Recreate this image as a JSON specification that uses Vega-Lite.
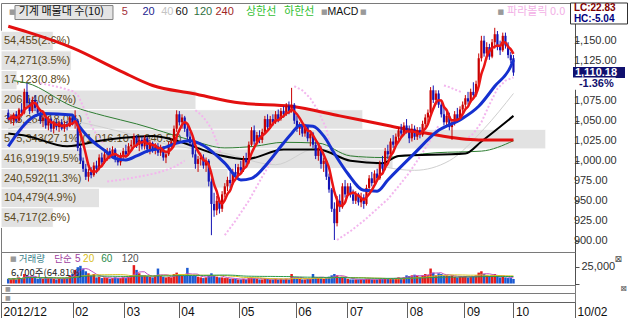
{
  "$schema": "https://vega.github.io/schema/vega-lite/v6.json",
  "padding": 0,
  "spacing": 0,
  "bounds": "flush",
  "background": "#ffffff",
  "config": {"view": {"stroke": "#7a7a7a", "strokeWidth": 1}, "axis": {"labelOverlap": false, "labelBound": false, "labelFlush": false}},
  "resolve": {"scale": {"x": "independent", "y": "independent"}},
  "datasets": {
    "ohlc": [
      {"i":0,"o":1060,"h":1064,"l":1050,"c":1052,"v":7000},{"i":1,"o":1052,"h":1058,"l":1046,"c":1055,"v":6000},{"i":2,"o":1050,"h":1060,"l":1044,"c":1058,"v":8000},{"i":3,"o":1058,"h":1062,"l":1047,"c":1050,"v":6000},{"i":4,"o":1050,"h":1066,"l":1048,"c":1064,"v":9000},
      {"i":5,"o":1064,"h":1072,"l":1056,"c":1060,"v":8000},{"i":6,"o":1060,"h":1090,"l":1058,"c":1086,"v":14000},{"i":7,"o":1086,"h":1097,"l":1068,"c":1072,"v":12000},{"i":8,"o":1072,"h":1078,"l":1058,"c":1062,"v":9000},{"i":9,"o":1062,"h":1080,"l":1060,"c":1076,"v":10000},
      {"i":10,"o":1076,"h":1082,"l":1062,"c":1066,"v":8000},{"i":11,"o":1066,"h":1074,"l":1056,"c":1060,"v":7000},{"i":12,"o":1060,"h":1064,"l":1046,"c":1050,"v":8000},{"i":13,"o":1050,"h":1058,"l":1042,"c":1054,"v":7000},{"i":14,"o":1054,"h":1058,"l":1040,"c":1044,"v":8000},
      {"i":15,"o":1044,"h":1056,"l":1038,"c":1052,"v":9000},{"i":16,"o":1052,"h":1054,"l":1036,"c":1040,"v":8000},{"i":17,"o":1040,"h":1050,"l":1034,"c":1046,"v":7000},{"i":18,"o":1046,"h":1052,"l":1038,"c":1042,"v":6000},{"i":19,"o":1042,"h":1050,"l":1036,"c":1048,"v":7000},
      {"i":20,"o":1048,"h":1052,"l":1038,"c":1040,"v":7000},{"i":21,"o":1040,"h":1050,"l":1036,"c":1046,"v":8000},{"i":22,"o":1046,"h":1050,"l":1038,"c":1043,"v":9000},{"i":23,"o":1043,"h":1056,"l":1042,"c":1054,"v":12000},{"i":24,"o":1054,"h":1058,"l":1044,"c":1048,"v":14000},
      {"i":25,"o":1048,"h":1063,"l":1040,"c":1056,"v":20000},{"i":26,"o":1050,"h":1052,"l":1012,"c":1016,"v":24000},{"i":27,"o":1016,"h":1020,"l":996,"c":1000,"v":26000},{"i":28,"o":1000,"h":1004,"l":986,"c":990,"v":22000},{"i":29,"o":990,"h":996,"l":976,"c":980,"v":18000},
      {"i":30,"o":980,"h":990,"l":974,"c":986,"v":15000},{"i":31,"o":986,"h":992,"l":978,"c":982,"v":12000},{"i":32,"o":982,"h":998,"l":980,"c":994,"v":14000},{"i":33,"o":994,"h":1000,"l":984,"c":990,"v":9000},{"i":34,"o":990,"h":1008,"l":988,"c":1004,"v":10000},
      {"i":35,"o":1004,"h":1010,"l":994,"c":998,"v":8000},{"i":36,"o":998,"h":1012,"l":996,"c":1008,"v":9000},{"i":37,"o":1008,"h":1016,"l":1000,"c":1012,"v":8000},{"i":38,"o":1012,"h":1016,"l":1002,"c":1006,"v":7000},{"i":39,"o":1006,"h":1018,"l":1004,"c":1014,"v":8000},
      {"i":40,"o":1014,"h":1016,"l":998,"c":1002,"v":9000},{"i":41,"o":1002,"h":1008,"l":994,"c":998,"v":8000},{"i":42,"o":998,"h":1010,"l":994,"c":1006,"v":8000},{"i":43,"o":1006,"h":1016,"l":1002,"c":1012,"v":9000},{"i":44,"o":1012,"h":1020,"l":1004,"c":1008,"v":8000},
      {"i":45,"o":1008,"h":1022,"l":1006,"c":1018,"v":10000},{"i":46,"o":1018,"h":1026,"l":1012,"c":1020,"v":12000},{"i":47,"o":1020,"h":1034,"l":1016,"c":1030,"v":27000},{"i":48,"o":1030,"h":1032,"l":1016,"c":1020,"v":20000},{"i":49,"o":1020,"h":1030,"l":1012,"c":1026,"v":15000},
      {"i":50,"o":1026,"h":1030,"l":1014,"c":1018,"v":12000},{"i":51,"o":1018,"h":1032,"l":1014,"c":1028,"v":12000},{"i":52,"o":1028,"h":1030,"l":1010,"c":1014,"v":11000},{"i":53,"o":1014,"h":1026,"l":1008,"c":1022,"v":10000},{"i":54,"o":1022,"h":1024,"l":1010,"c":1014,"v":9000},
      {"i":55,"o":1014,"h":1022,"l":1008,"c":1018,"v":12000},{"i":56,"o":1018,"h":1022,"l":1006,"c":1010,"v":22000},{"i":57,"o":1010,"h":1020,"l":1006,"c":1016,"v":11000},{"i":58,"o":1016,"h":1018,"l":1000,"c":1004,"v":10000},{"i":59,"o":1004,"h":1010,"l":997,"c":1008,"v":9000},
      {"i":60,"o":1008,"h":1024,"l":1006,"c":1020,"v":10000},{"i":61,"o":1020,"h":1028,"l":1014,"c":1024,"v":9000},{"i":62,"o":1024,"h":1044,"l":1020,"c":1040,"v":14000},{"i":63,"o":1040,"h":1063,"l":1036,"c":1058,"v":16000},{"i":64,"o":1058,"h":1062,"l":1044,"c":1048,"v":13000},
      {"i":65,"o":1048,"h":1058,"l":1040,"c":1054,"v":11000},{"i":66,"o":1054,"h":1056,"l":1036,"c":1040,"v":12000},{"i":67,"o":1040,"h":1044,"l":1026,"c":1030,"v":23000},{"i":68,"o":1030,"h":1036,"l":1018,"c":1022,"v":12000},{"i":69,"o":1022,"h":1028,"l":1004,"c":1008,"v":11000},
      {"i":70,"o":1008,"h":1014,"l":990,"c":996,"v":12000},{"i":71,"o":996,"h":1006,"l":986,"c":1002,"v":10000},{"i":72,"o":1002,"h":1010,"l":994,"c":1004,"v":9000},{"i":73,"o":1004,"h":1008,"l":990,"c":994,"v":8000},{"i":74,"o":994,"h":1004,"l":986,"c":1000,"v":9000},
      {"i":75,"o":1000,"h":1002,"l":968,"c":974,"v":12000},{"i":76,"o":974,"h":978,"l":907,"c":946,"v":15000},{"i":77,"o":946,"h":960,"l":930,"c":938,"v":12000},{"i":78,"o":938,"h":956,"l":932,"c":950,"v":10000},{"i":79,"o":950,"h":954,"l":934,"c":940,"v":9000},
      {"i":80,"o":940,"h":962,"l":936,"c":958,"v":9000},{"i":81,"o":958,"h":972,"l":954,"c":968,"v":8000},{"i":82,"o":968,"h":980,"l":962,"c":976,"v":8000},{"i":83,"o":976,"h":986,"l":966,"c":972,"v":7000},{"i":84,"o":972,"h":990,"l":970,"c":986,"v":7000},
      {"i":85,"o":986,"h":996,"l":978,"c":982,"v":7000},{"i":86,"o":982,"h":996,"l":980,"c":992,"v":6000},{"i":87,"o":992,"h":1000,"l":984,"c":988,"v":6000},{"i":88,"o":988,"h":1006,"l":986,"c":1002,"v":7000},{"i":89,"o":1002,"h":1010,"l":994,"c":998,"v":6000},
      {"i":90,"o":998,"h":1024,"l":996,"c":1020,"v":8000},{"i":91,"o":1020,"h":1042,"l":1018,"c":1038,"v":9000},{"i":92,"o":1038,"h":1044,"l":1020,"c":1024,"v":8000},{"i":93,"o":1024,"h":1036,"l":1020,"c":1032,"v":7000},{"i":94,"o":1032,"h":1038,"l":1022,"c":1026,"v":6000},
      {"i":95,"o":1026,"h":1040,"l":1022,"c":1036,"v":6000},{"i":96,"o":1036,"h":1056,"l":1034,"c":1052,"v":8000},{"i":97,"o":1052,"h":1058,"l":1038,"c":1042,"v":7000},{"i":98,"o":1042,"h":1056,"l":1040,"c":1052,"v":6000},{"i":99,"o":1052,"h":1058,"l":1044,"c":1048,"v":6000},
      {"i":100,"o":1048,"h":1062,"l":1046,"c":1058,"v":7000},{"i":101,"o":1058,"h":1064,"l":1048,"c":1052,"v":6000},{"i":102,"o":1052,"h":1066,"l":1050,"c":1062,"v":7000},{"i":103,"o":1062,"h":1068,"l":1054,"c":1058,"v":6000},{"i":104,"o":1058,"h":1072,"l":1056,"c":1068,"v":7000},
      {"i":105,"o":1068,"h":1074,"l":1058,"c":1062,"v":6000},{"i":106,"o":1062,"h":1091,"l":1060,"c":1070,"v":14000},{"i":107,"o":1070,"h":1072,"l":1046,"c":1050,"v":9000},{"i":108,"o":1050,"h":1056,"l":1036,"c":1040,"v":8000},{"i":109,"o":1040,"h":1048,"l":1032,"c":1044,"v":7000},
      {"i":110,"o":1044,"h":1048,"l":1030,"c":1034,"v":6000},{"i":111,"o":1034,"h":1046,"l":1030,"c":1042,"v":6000},{"i":112,"o":1042,"h":1044,"l":1024,"c":1028,"v":7000},{"i":113,"o":1028,"h":1038,"l":1018,"c":1034,"v":7000},{"i":114,"o":1034,"h":1036,"l":1016,"c":1020,"v":14000},
      {"i":115,"o":1020,"h":1024,"l":1002,"c":1006,"v":9000},{"i":116,"o":1006,"h":1020,"l":1000,"c":1016,"v":8000},{"i":117,"o":1016,"h":1018,"l":990,"c":996,"v":8000},{"i":118,"o":996,"h":1004,"l":986,"c":1000,"v":7000},{"i":119,"o":1000,"h":1002,"l":976,"c":980,"v":9000},
      {"i":120,"o":980,"h":984,"l":960,"c":964,"v":10000},{"i":121,"o":964,"h":966,"l":936,"c":940,"v":12000},{"i":122,"o":940,"h":948,"l":901,"c":922,"v":14000},{"i":123,"o":922,"h":956,"l":918,"c":950,"v":12000},{"i":124,"o":950,"h":958,"l":936,"c":942,"v":9000},
      {"i":125,"o":942,"h":972,"l":940,"c":968,"v":10000},{"i":126,"o":968,"h":976,"l":954,"c":958,"v":8000},{"i":127,"o":958,"h":972,"l":956,"c":968,"v":7000},{"i":128,"o":968,"h":972,"l":954,"c":958,"v":6000},{"i":129,"o":958,"h":964,"l":946,"c":950,"v":6000},
      {"i":130,"o":950,"h":962,"l":946,"c":958,"v":6000},{"i":131,"o":958,"h":960,"l":944,"c":948,"v":6000},{"i":132,"o":948,"h":960,"l":942,"c":954,"v":6000},{"i":133,"o":954,"h":958,"l":940,"c":946,"v":6000},{"i":134,"o":946,"h":970,"l":944,"c":966,"v":7000},
      {"i":135,"o":966,"h":982,"l":962,"c":978,"v":7000},{"i":136,"o":978,"h":986,"l":968,"c":972,"v":6000},{"i":137,"o":972,"h":988,"l":970,"c":984,"v":6000},{"i":138,"o":984,"h":990,"l":974,"c":978,"v":6000},{"i":139,"o":978,"h":1000,"l":976,"c":996,"v":7000},
      {"i":140,"o":996,"h":1006,"l":986,"c":990,"v":7000},{"i":141,"o":990,"h":1016,"l":988,"c":1012,"v":8000},{"i":142,"o":1012,"h":1020,"l":1002,"c":1008,"v":7000},{"i":143,"o":1008,"h":1028,"l":1006,"c":1024,"v":8000},{"i":144,"o":1024,"h":1032,"l":1016,"c":1020,"v":7000},
      {"i":145,"o":1020,"h":1034,"l":1018,"c":1030,"v":8000},{"i":146,"o":1030,"h":1042,"l":1026,"c":1038,"v":9000},{"i":147,"o":1038,"h":1046,"l":1030,"c":1034,"v":8000},{"i":148,"o":1034,"h":1048,"l":1032,"c":1044,"v":9000},{"i":149,"o":1044,"h":1052,"l":1034,"c":1038,"v":12000},
      {"i":150,"o":1038,"h":1044,"l":1022,"c":1028,"v":11000},{"i":151,"o":1028,"h":1046,"l":1024,"c":1040,"v":12000},{"i":152,"o":1040,"h":1044,"l":1026,"c":1030,"v":13000},{"i":153,"o":1030,"h":1042,"l":1026,"c":1038,"v":11000},{"i":154,"o":1038,"h":1042,"l":1028,"c":1032,"v":10000},
      {"i":155,"o":1032,"h":1050,"l":1030,"c":1046,"v":12000},{"i":156,"o":1046,"h":1058,"l":1040,"c":1054,"v":14000},{"i":157,"o":1054,"h":1064,"l":1048,"c":1060,"v":13000},{"i":158,"o":1060,"h":1092,"l":1058,"c":1088,"v":22000},{"i":159,"o":1088,"h":1094,"l":1072,"c":1076,"v":16000},
      {"i":160,"o":1076,"h":1088,"l":1070,"c":1084,"v":12000},{"i":161,"o":1084,"h":1088,"l":1066,"c":1070,"v":15000},{"i":162,"o":1070,"h":1076,"l":1054,"c":1058,"v":14000},{"i":163,"o":1058,"h":1066,"l":1044,"c":1048,"v":12000},{"i":164,"o":1048,"h":1062,"l":1042,"c":1056,"v":12000},
      {"i":165,"o":1056,"h":1060,"l":1038,"c":1042,"v":11000},{"i":166,"o":1042,"h":1052,"l":1026,"c":1048,"v":12000},{"i":167,"o":1048,"h":1062,"l":1044,"c":1058,"v":10000},{"i":168,"o":1058,"h":1066,"l":1048,"c":1052,"v":9000},{"i":169,"o":1052,"h":1068,"l":1050,"c":1064,"v":10000},
      {"i":170,"o":1064,"h":1074,"l":1056,"c":1070,"v":10000},{"i":171,"o":1070,"h":1082,"l":1066,"c":1078,"v":11000},{"i":172,"o":1078,"h":1086,"l":1070,"c":1074,"v":9000},{"i":173,"o":1074,"h":1090,"l":1072,"c":1086,"v":10000},{"i":174,"o":1086,"h":1098,"l":1078,"c":1082,"v":11000},
      {"i":175,"o":1082,"h":1100,"l":1080,"c":1096,"v":12000},{"i":176,"o":1096,"h":1134,"l":1094,"c":1128,"v":16000},{"i":177,"o":1128,"h":1156,"l":1124,"c":1150,"v":18000},{"i":178,"o":1150,"h":1156,"l":1130,"c":1134,"v":14000},{"i":179,"o":1134,"h":1148,"l":1126,"c":1142,"v":12000},
      {"i":180,"o":1142,"h":1146,"l":1126,"c":1130,"v":11000},{"i":181,"o":1130,"h":1152,"l":1128,"c":1148,"v":12000},{"i":182,"o":1148,"h":1166,"l":1140,"c":1158,"v":14000},{"i":183,"o":1158,"h":1162,"l":1138,"c":1142,"v":11000},{"i":184,"o":1142,"h":1150,"l":1132,"c":1138,"v":9000},
      {"i":185,"o":1138,"h":1160,"l":1136,"c":1156,"v":10000},{"i":186,"o":1156,"h":1160,"l":1140,"c":1144,"v":9000},{"i":187,"o":1144,"h":1148,"l":1128,"c":1132,"v":8000},{"i":188,"o":1132,"h":1136,"l":1122,"c":1125.5,"v":8000},{"i":189,"o":1128,"h":1132,"l":1106,"c":1110.18,"v":6700}
    ],
    "ma": [
      {"i":0,"ma":"240","p":1168},{"i":7,"ma":"240","p":1161},{"i":24,"ma":"240","p":1141},{"i":42,"ma":"240","p":1112},{"i":54,"ma":"240","p":1094},{"i":69,"ma":"240","p":1084},{"i":87,"ma":"240","p":1072},{"i":106,"ma":"240","p":1068},{"i":124,"ma":"240","p":1056},{"i":142,"ma":"240","p":1044},{"i":157,"ma":"240","p":1034},{"i":176,"ma":"240","p":1026},{"i":189,"ma":"240","p":1026},
      {"i":2,"ma":"120","p":1100},{"i":7,"ma":"120","p":1097},{"i":24,"ma":"120","p":1068},{"i":36,"ma":"120","p":1056},{"i":48,"ma":"120","p":1046},{"i":58,"ma":"120","p":1036},{"i":69,"ma":"120","p":1025},{"i":81,"ma":"120","p":1016},{"i":92,"ma":"120","p":1018},{"i":103,"ma":"120","p":1023},{"i":116,"ma":"120","p":1022},{"i":128,"ma":"120","p":1006},{"i":140,"ma":"120","p":1004},{"i":160,"ma":"120","p":1010},{"i":177,"ma":"120","p":1012},{"i":189,"ma":"120","p":1025},
      {"i":0,"ma":"60","p":1034},{"i":7,"ma":"60","p":1031},{"i":22,"ma":"60","p":1018},{"i":36,"ma":"60","p":1026},{"i":48,"ma":"60","p":1030},{"i":54,"ma":"60","p":1031},{"i":62,"ma":"60","p":1026},{"i":79,"ma":"60","p":1007},{"i":89,"ma":"60","p":1002},{"i":103,"ma":"60","p":1014},{"i":116,"ma":"60","p":1014},{"i":128,"ma":"60","p":1000},{"i":140,"ma":"60","p":997},{"i":146,"ma":"60","p":1006},{"i":171,"ma":"60","p":1009},{"i":177,"ma":"60","p":1024},{"i":189,"ma":"60","p":1056},
      {"i":0,"ma":"40","p":1040},{"i":20,"ma":"40","p":1050},{"i":40,"ma":"40","p":1038},{"i":60,"ma":"40","p":1020},{"i":80,"ma":"40","p":1010},{"i":100,"ma":"40","p":995},{"i":115,"ma":"40","p":1015},{"i":130,"ma":"40","p":1005},{"i":140,"ma":"40","p":993},{"i":152,"ma":"40","p":988},{"i":165,"ma":"40","p":1000},{"i":178,"ma":"40","p":1040},{"i":189,"ma":"40","p":1084},
      {"i":0,"ma":"20","p":1018},{"i":10,"ma":"20","p":1056},{"i":13,"ma":"20","p":1059},{"i":24,"ma":"20","p":1057},{"i":25,"ma":"20","p":1051},{"i":31,"ma":"20","p":1026},{"i":36,"ma":"20","p":1013},{"i":40,"ma":"20","p":1003},{"i":44,"ma":"20","p":1001},{"i":48,"ma":"20","p":1006},{"i":52,"ma":"20","p":1012},{"i":58,"ma":"20","p":1016},{"i":63,"ma":"20","p":1022},{"i":68,"ma":"20","p":1025},{"i":73,"ma":"20","p":1019},{"i":81,"ma":"20","p":997},{"i":87,"ma":"20","p":976},{"i":91,"ma":"20","p":978},{"i":97,"ma":"20","p":997},{"i":102,"ma":"20","p":1018},{"i":106,"ma":"20","p":1034},{"i":109,"ma":"20","p":1044},{"i":114,"ma":"20","p":1043},{"i":118,"ma":"20","p":1031},{"i":122,"ma":"20","p":1009},{"i":127,"ma":"20","p":984},{"i":133,"ma":"20","p":963},{"i":138,"ma":"20","p":962},{"i":142,"ma":"20","p":976},{"i":151,"ma":"20","p":1006},{"i":161,"ma":"20","p":1038},{"i":169,"ma":"20","p":1051},{"i":176,"ma":"20","p":1068},{"i":182,"ma":"20","p":1093},{"i":188,"ma":"20","p":1118},{"i":189,"ma":"20","p":1126}
    ],
    "sar": [
      {"i":0,"seg":"A","s":1018},{"i":2,"seg":"A","s":1026},{"i":4,"seg":"A","s":1034},{"i":6,"seg":"A","s":1042},{"i":8,"seg":"A","s":1050},{"i":10,"seg":"A","s":1056},
      {"i":12,"seg":"B","s":1097},{"i":16,"seg":"B","s":1094},{"i":20,"seg":"B","s":1091},{"i":24,"seg":"B","s":1087},{"i":26,"seg":"B","s":1082},{"i":28,"seg":"B","s":1068},{"i":30,"seg":"B","s":1052},{"i":32,"seg":"B","s":1038},{"i":34,"seg":"B","s":1028},{"i":36,"seg":"B","s":1020},
      {"i":37,"seg":"C","s":974},{"i":42,"seg":"C","s":976},{"i":47,"seg":"C","s":979},{"i":52,"seg":"C","s":982},{"i":57,"seg":"C","s":986},{"i":62,"seg":"C","s":992},{"i":66,"seg":"C","s":1000},
      {"i":70,"seg":"D","s":1063},{"i":72,"seg":"D","s":1058},{"i":74,"seg":"D","s":1050},{"i":76,"seg":"D","s":1040},{"i":78,"seg":"D","s":1024},{"i":80,"seg":"D","s":1004},
      {"i":81,"seg":"E","s":907},{"i":85,"seg":"E","s":925},{"i":90,"seg":"E","s":950},{"i":95,"seg":"E","s":980},{"i":100,"seg":"E","s":1008},{"i":105,"seg":"E","s":1030},
      {"i":107,"seg":"F","s":1093},{"i":110,"seg":"F","s":1088},{"i":113,"seg":"F","s":1078},{"i":116,"seg":"F","s":1062},{"i":119,"seg":"F","s":1040},{"i":121,"seg":"F","s":1010},
      {"i":123,"seg":"G","s":901},{"i":128,"seg":"G","s":912},{"i":133,"seg":"G","s":925},{"i":138,"seg":"G","s":940},{"i":142,"seg":"G","s":952},{"i":146,"seg":"G","s":968},{"i":150,"seg":"G","s":985},{"i":154,"seg":"G","s":1005},{"i":158,"seg":"G","s":1026},{"i":161,"seg":"G","s":1044},
      {"i":163,"seg":"H","s":1094},{"i":165,"seg":"H","s":1092},{"i":167,"seg":"H","s":1089},{"i":170,"seg":"H","s":1085},
      {"i":171,"seg":"I","s":1026},{"i":174,"seg":"I","s":1034},{"i":177,"seg":"I","s":1048},{"i":180,"seg":"I","s":1070},{"i":183,"seg":"I","s":1090},{"i":186,"seg":"I","s":1100},{"i":189,"seg":"I","s":1104}
    ],
    "profile": [
      {"hi":1161.75,"lo":1137.25,"pct":2.6,"label":"54,455(2.6%)"},
      {"hi":1137.25,"lo":1112.75,"pct":3.5,"label":"74,271(3.5%)"},
      {"hi":1112.75,"lo":1088.25,"pct":0.8,"label":"17,123(0.8%)"},
      {"hi":1088.25,"lo":1063.75,"pct":9.7,"label":"206,140(9.7%)"},
      {"hi":1063.75,"lo":1039.25,"pct":18.0,"label":"383,264(18.0%)"},
      {"hi":1039.25,"lo":1014.75,"pct":27.1,"label":"575,343(27.1%)(1,016.10~1,040.58)"},
      {"hi":1014.75,"lo":990.25,"pct":19.5,"label":"416,919(19.5%)"},
      {"hi":990.25,"lo":965.75,"pct":11.3,"label":"240,592(11.3%)"},
      {"hi":965.75,"lo":941.25,"pct":4.9,"label":"104,479(4.9%)"},
      {"hi":941.25,"lo":916.75,"pct":2.6,"label":"54,717(2.6%)"}
    ],
    "yticks": [{"v":900},{"v":925},{"v":950},{"v":975},{"v":1000},{"v":1025},{"v":1050},{"v":1075},{"v":1125},{"v":1150}]
  },
  "vconcat": [
    {
      "width": 574,
      "height": 249,
      "resolve": {"scale": {"x": "independent"}},
      "layer": [
        {
          "data": {"name": "profile"},
          "layer": [
            {
              "mark": {"type": "rect", "fill": "#e2e2e2", "stroke": "#ffffff", "strokeWidth": 1},
              "encoding": {
                "x": {"field": "pct", "type": "quantitative", "scale": {"domain": [0, 28.55], "nice": false, "zero": false}, "axis": null},
                "x2": {"datum": 0},
                "y": {"field": "hi", "type": "quantitative", "scale": {"domain": [886, 1197], "nice": false, "zero": false},
                  "axis": {"orient": "right", "title": null, "grid": false, "values": [900, 925, 950, 975, 1000, 1025, 1050, 1075, 1100, 1125, 1150], "labels": false, "tickSize": 4, "domainColor": "#505050", "tickColor": "#505050"}},
                "y2": {"field": "lo"}
              }
            },
            {
              "mark": {"type": "text", "align": "left", "baseline": "top", "dx": 3, "dy": 4, "font": "Liberation Sans", "fontSize": 11, "color": "#5a4820"},
              "encoding": {
                "x": {"datum": 0, "type": "quantitative", "scale": {"domain": [0, 28.55], "nice": false, "zero": false}, "axis": null},
                "y": {"field": "hi", "type": "quantitative", "scale": {"domain": [886, 1197], "nice": false, "zero": false}},
                "text": {"field": "label", "type": "nominal"}
              }
            }
          ]
        },
        {
          "layer": [
            {
              "data": {"name": "sar"},
              "mark": {"type": "line", "color": "#f3b6ee", "strokeWidth": 2, "strokeDash": [2, 2]},
              "encoding": {
                "x": {"field": "i", "type": "quantitative", "scale": {"domain": [-0.85, 210.15], "nice": false, "zero": false}, "axis": null},
                "y": {"field": "s", "type": "quantitative", "scale": {"domain": [886, 1197], "nice": false, "zero": false}},
                "detail": {"field": "seg", "type": "nominal"}
              }
            },
            {
              "data": {"name": "ma"},
              "transform": [{"filter": "datum.ma == '40'"}],
              "mark": {"type": "line", "interpolate": "monotone", "color": "#cfcfcf", "strokeWidth": 1},
              "encoding": {
                "x": {"field": "i", "type": "quantitative", "scale": {"domain": [-0.85, 210.15], "nice": false, "zero": false}, "axis": null},
                "y": {"field": "p", "type": "quantitative", "scale": {"domain": [886, 1197], "nice": false, "zero": false}}
              }
            },
            {
              "data": {"name": "ma"},
              "transform": [{"filter": "datum.ma == '120'"}],
              "mark": {"type": "line", "interpolate": "monotone", "color": "#2e7d32", "strokeWidth": 1},
              "encoding": {
                "x": {"field": "i", "type": "quantitative", "scale": {"domain": [-0.85, 210.15], "nice": false, "zero": false}, "axis": null},
                "y": {"field": "p", "type": "quantitative", "scale": {"domain": [886, 1197], "nice": false, "zero": false}}
              }
            },
            {
              "data": {"name": "ma"},
              "transform": [{"filter": "datum.ma == '60'"}],
              "mark": {"type": "line", "interpolate": "monotone", "color": "#000000", "strokeWidth": 2},
              "encoding": {
                "x": {"field": "i", "type": "quantitative", "scale": {"domain": [-0.85, 210.15], "nice": false, "zero": false}, "axis": null},
                "y": {"field": "p", "type": "quantitative", "scale": {"domain": [886, 1197], "nice": false, "zero": false}}
              }
            },
            {
              "data": {"name": "ma"},
              "transform": [{"filter": "datum.ma == '240'"}],
              "mark": {"type": "line", "interpolate": "monotone", "color": "#e31010", "strokeWidth": 3},
              "encoding": {
                "x": {"field": "i", "type": "quantitative", "scale": {"domain": [-0.85, 210.15], "nice": false, "zero": false}, "axis": null},
                "y": {"field": "p", "type": "quantitative", "scale": {"domain": [886, 1197], "nice": false, "zero": false}}
              }
            },
            {
              "data": {"name": "ohlc"},
              "mark": {"type": "rule", "strokeWidth": 1},
              "encoding": {
                "x": {"field": "i", "type": "quantitative", "scale": {"domain": [-0.85, 210.15], "nice": false, "zero": false}, "axis": null},
                "y": {"field": "l", "type": "quantitative", "scale": {"domain": [886, 1197], "nice": false, "zero": false}},
                "y2": {"field": "h"},
                "color": {"condition": {"test": "datum.c >= datum.o", "value": "#c80000"}, "value": "#1414b4"}
              }
            },
            {
              "data": {"name": "ohlc"},
              "mark": {"type": "bar", "size": 2.2},
              "encoding": {
                "x": {"field": "i", "type": "quantitative", "scale": {"domain": [-0.85, 210.15], "nice": false, "zero": false}, "axis": null},
                "y": {"field": "o", "type": "quantitative", "scale": {"domain": [886, 1197], "nice": false, "zero": false}},
                "y2": {"field": "c"},
                "color": {"condition": {"test": "datum.c >= datum.o", "value": "#c80000"}, "value": "#1414b4"}
              }
            },
            {
              "data": {"name": "ma"},
              "transform": [{"filter": "datum.ma == '20'"}],
              "mark": {"type": "line", "interpolate": "monotone", "color": "#1530d0", "strokeWidth": 3},
              "encoding": {
                "x": {"field": "i", "type": "quantitative", "scale": {"domain": [-0.85, 210.15], "nice": false, "zero": false}, "axis": null},
                "y": {"field": "p", "type": "quantitative", "scale": {"domain": [886, 1197], "nice": false, "zero": false}}
              }
            },
            {
              "data": {"name": "ohlc"},
              "transform": [{"window": [{"op": "mean", "field": "c", "as": "ma5"}], "frame": [-4, 0], "sort": [{"field": "i", "order": "ascending"}]}],
              "mark": {"type": "line", "interpolate": "monotone", "color": "#ea1515", "strokeWidth": 2.5},
              "encoding": {
                "x": {"field": "i", "type": "quantitative", "scale": {"domain": [-0.85, 210.15], "nice": false, "zero": false}, "axis": null},
                "y": {"field": "ma5", "type": "quantitative", "scale": {"domain": [886, 1197], "nice": false, "zero": false}}
              }
            },
            {
              "data": {"name": "yticks"},
              "mark": {"type": "text", "align": "left", "baseline": "middle", "font": "Liberation Sans", "fontSize": 11, "color": "#303030"},
              "encoding": {
                "x": {"datum": 211.6, "type": "quantitative", "scale": {"domain": [-0.85, 210.15], "nice": false, "zero": false}, "axis": null},
                "y": {"field": "v", "type": "quantitative", "scale": {"domain": [886, 1197], "nice": false, "zero": false}},
                "text": {"field": "v", "type": "quantitative", "format": ",.2f"}
              }
            },
            {
              "data": {"values": [{}]},
              "layer": [
                {
                  "mark": {"type": "point", "shape": "M-1,-0.1429L1,-0.1429L1,0.1429L-1,0.1429Z", "size": 9604, "filled": true, "fill": "#e4e4e4", "stroke": "#808080", "strokeWidth": 1, "opacity": 1},
                  "encoding": {
                    "x": {"datum": 20.84, "type": "quantitative", "scale": {"domain": [-0.85, 210.15], "nice": false, "zero": false}, "axis": null},
                    "y": {"datum": 1185.1, "type": "quantitative", "scale": {"domain": [886, 1197], "nice": false, "zero": false}}
                  }
                },
                {
                  "mark": {"type": "point", "shape": "M-1,-0.368L1,-0.368L1,0.368L-1,0.368Z", "size": 3249, "filled": true, "fill": "#ffffff", "stroke": "#303030", "strokeWidth": 1, "opacity": 1},
                  "encoding": {
                    "x": {"datum": 221.0, "type": "quantitative", "scale": {"domain": [-0.85, 210.15], "nice": false, "zero": false}, "axis": null},
                    "y": {"datum": 1183.9, "type": "quantitative", "scale": {"domain": [886, 1197], "nice": false, "zero": false}}
                  }
                },
                {
                  "mark": {"type": "point", "shape": "M-1,-0.2115L1,-0.2115L1,0.2115L-1,0.2115Z", "size": 2704, "filled": true, "fill": "#10106e", "opacity": 1, "strokeWidth": 0},
                  "encoding": {
                    "x": {"datum": 221.0, "type": "quantitative", "scale": {"domain": [-0.85, 210.15], "nice": false, "zero": false}, "axis": null},
                    "y": {"datum": 1110.1, "type": "quantitative", "scale": {"domain": [886, 1197], "nice": false, "zero": false}}
                  }
                },
                {
                  "mark": {"type": "point", "shape": "M-1,-0.28L1,-0.28L1,0.28L-1,0.28Z", "size": 1936, "filled": true, "fill": "#ffffff", "opacity": 1, "strokeWidth": 0},
                  "encoding": {
                    "x": {"datum": 219.0, "type": "quantitative", "scale": {"domain": [-0.85, 210.15], "nice": false, "zero": false}, "axis": null},
                    "y": {"datum": 1096.4, "type": "quantitative", "scale": {"domain": [886, 1197], "nice": false, "zero": false}}
                  }
                }
              ]
            },
            {
              "data": {"values": [{}]},
              "encoding": {"y": {"datum": 1185.75, "type": "quantitative", "scale": {"domain": [886, 1197], "nice": false, "zero": false}}},
              "layer": [
                {"mark": {"type": "text", "text": "■", "align": "left", "baseline": "middle", "font": "DejaVu Sans", "fontSize": 7, "color": "#9a9a9a"}, "encoding": {"x": {"datum": 0.3, "type": "quantitative", "scale": {"domain": [-0.85, 210.15], "nice": false, "zero": false}, "axis": null}}},
                {"mark": {"type": "text", "text": "기계 매물대 수(10)", "align": "left", "baseline": "middle", "font": "Noto Sans CJK KR", "fontSize": 11, "color": "#101010"}, "encoding": {"x": {"datum": 3.9, "type": "quantitative", "scale": {"domain": [-0.85, 210.15], "nice": false, "zero": false}, "axis": null}}},
                {"mark": {"type": "text", "text": "5", "align": "left", "baseline": "middle", "font": "Liberation Sans", "fontSize": 11, "color": "#a3303a"}, "encoding": {"x": {"datum": 42.5, "type": "quantitative", "scale": {"domain": [-0.85, 210.15], "nice": false, "zero": false}, "axis": null}}},
                {"mark": {"type": "text", "text": "20", "align": "left", "baseline": "middle", "font": "Liberation Sans", "fontSize": 11, "color": "#23238f"}, "encoding": {"x": {"datum": 50.2, "type": "quantitative", "scale": {"domain": [-0.85, 210.15], "nice": false, "zero": false}, "axis": null}}},
                {"mark": {"type": "text", "text": "40", "align": "left", "baseline": "middle", "font": "Liberation Sans", "fontSize": 11, "color": "#c4c4c4"}, "encoding": {"x": {"datum": 57.2, "type": "quantitative", "scale": {"domain": [-0.85, 210.15], "nice": false, "zero": false}, "axis": null}}},
                {"mark": {"type": "text", "text": "60", "align": "left", "baseline": "middle", "font": "Liberation Sans", "fontSize": 11, "color": "#101010"}, "encoding": {"x": {"datum": 62.6, "type": "quantitative", "scale": {"domain": [-0.85, 210.15], "nice": false, "zero": false}, "axis": null}}},
                {"mark": {"type": "text", "text": "120", "align": "left", "baseline": "middle", "font": "Liberation Sans", "fontSize": 11, "color": "#2f6f3f"}, "encoding": {"x": {"datum": 69.4, "type": "quantitative", "scale": {"domain": [-0.85, 210.15], "nice": false, "zero": false}, "axis": null}}},
                {"mark": {"type": "text", "text": "240", "align": "left", "baseline": "middle", "font": "Liberation Sans", "fontSize": 11, "color": "#a02525"}, "encoding": {"x": {"datum": 77.5, "type": "quantitative", "scale": {"domain": [-0.85, 210.15], "nice": false, "zero": false}, "axis": null}}},
                {"mark": {"type": "text", "text": "상한선", "align": "left", "baseline": "middle", "font": "Noto Sans CJK KR", "fontSize": 11, "color": "#2fc02f"}, "encoding": {"x": {"datum": 88.9, "type": "quantitative", "scale": {"domain": [-0.85, 210.15], "nice": false, "zero": false}, "axis": null}}},
                {"mark": {"type": "text", "text": "하한선", "align": "left", "baseline": "middle", "font": "Noto Sans CJK KR", "fontSize": 11, "color": "#2fc02f"}, "encoding": {"x": {"datum": 103.2, "type": "quantitative", "scale": {"domain": [-0.85, 210.15], "nice": false, "zero": false}, "axis": null}}},
                {"mark": {"type": "text", "text": "■", "align": "left", "baseline": "middle", "font": "DejaVu Sans", "fontSize": 7, "color": "#9a9a9a"}, "encoding": {"x": {"datum": 117.0, "type": "quantitative", "scale": {"domain": [-0.85, 210.15], "nice": false, "zero": false}, "axis": null}}},
                {"mark": {"type": "text", "text": "MACD", "align": "left", "baseline": "middle", "font": "Liberation Sans", "fontSize": 10.5, "color": "#101010"}, "encoding": {"x": {"datum": 119.4, "type": "quantitative", "scale": {"domain": [-0.85, 210.15], "nice": false, "zero": false}, "axis": null}}},
                {"mark": {"type": "text", "text": "■", "align": "left", "baseline": "middle", "font": "DejaVu Sans", "fontSize": 7, "color": "#9a9a9a"}, "encoding": {"x": {"datum": 131.6, "type": "quantitative", "scale": {"domain": [-0.85, 210.15], "nice": false, "zero": false}, "axis": null}}},
                {"mark": {"type": "text", "text": "■", "align": "left", "baseline": "middle", "font": "DejaVu Sans", "fontSize": 7, "color": "#9a9a9a"}, "encoding": {"x": {"datum": 183.0, "type": "quantitative", "scale": {"domain": [-0.85, 210.15], "nice": false, "zero": false}, "axis": null}}},
                {"mark": {"type": "text", "text": "파라볼릭 0.0", "align": "left", "baseline": "middle", "font": "Noto Sans CJK KR", "fontSize": 11, "color": "#f2b0e6"}, "encoding": {"x": {"datum": 186.6, "type": "quantitative", "scale": {"domain": [-0.85, 210.15], "nice": false, "zero": false}, "axis": null}}}
              ]
            },
            {
              "data": {"values": [{}]},
              "encoding": {"x": {"datum": 211.6, "type": "quantitative", "scale": {"domain": [-0.85, 210.15], "nice": false, "zero": false}, "axis": null}},
              "layer": [
                {"mark": {"type": "text", "text": "LC:22.83", "align": "left", "baseline": "middle", "font": "Liberation Sans", "fontSize": 10, "fontWeight": "bold", "color": "#800000"}, "encoding": {"y": {"datum": 1190.75, "type": "quantitative", "scale": {"domain": [886, 1197], "nice": false, "zero": false}}}},
                {"mark": {"type": "text", "text": "HC:-5.04", "align": "left", "baseline": "middle", "font": "Liberation Sans", "fontSize": 10, "fontWeight": "bold", "color": "#000080"}, "encoding": {"y": {"datum": 1177.0, "type": "quantitative", "scale": {"domain": [886, 1197], "nice": false, "zero": false}}}},
                {"mark": {"type": "text", "text": "1,110.18", "align": "left", "baseline": "middle", "font": "Liberation Sans", "fontSize": 11, "fontWeight": "bold", "color": "#ffffff", "dx": 1}, "encoding": {"y": {"datum": 1110.18, "type": "quantitative", "scale": {"domain": [886, 1197], "nice": false, "zero": false}}}},
                {"mark": {"type": "text", "text": "-1.36%", "align": "left", "baseline": "middle", "font": "Liberation Sans", "fontSize": 11, "fontWeight": "bold", "color": "#10106e", "dx": 5}, "encoding": {"y": {"datum": 1096.4, "type": "quantitative", "scale": {"domain": [886, 1197], "nice": false, "zero": false}}}}
              ]
            }
          ]
        }
      ]
    },
    {
      "width": 574,
      "height": 33,
      "layer": [
        {
          "data": {"name": "ohlc"},
          "mark": {"type": "bar", "size": 2.5},
          "encoding": {
            "x": {"field": "i", "type": "quantitative", "scale": {"domain": [-0.85, 210.15], "nice": false, "zero": false}, "axis": null},
            "y": {"field": "v", "type": "quantitative", "scale": {"domain": [-2200, 46330], "nice": false, "zero": false},
              "axis": {"orient": "right", "title": null, "grid": false, "values": [0, 25000], "labelExpr": "datum.value == 25000 ? '25,000' : ''", "tickSize": 4, "labelPadding": 2, "labelFont": "Liberation Sans", "labelFontSize": 11, "labelColor": "#303030", "domainColor": "#505050", "tickColor": "#505050", "labelFlush": false, "labelOverlap": false, "labelBound": false}},
            "color": {"condition": {"test": "datum.c >= datum.o", "value": "#e41c1c"}, "value": "#1c5ad2"}
          }
        },
        {
          "data": {"name": "ohlc"},
          "transform": [{"window": [{"op": "mean", "field": "v", "as": "vm"}], "frame": [-4, 0], "sort": [{"field": "i", "order": "ascending"}]}],
          "mark": {"type": "line", "color": "#c050c0", "strokeWidth": 1},
          "encoding": {
            "x": {"field": "i", "type": "quantitative", "scale": {"domain": [-0.85, 210.15], "nice": false, "zero": false}, "axis": null},
            "y": {"field": "vm", "type": "quantitative", "scale": {"domain": [-2200, 46330], "nice": false, "zero": false}}
          }
        },
        {
          "data": {"name": "ohlc"},
          "transform": [{"window": [{"op": "mean", "field": "v", "as": "vm"}], "frame": [-19, 0], "sort": [{"field": "i", "order": "ascending"}]}],
          "mark": {"type": "line", "color": "#d8c020", "strokeWidth": 1},
          "encoding": {
            "x": {"field": "i", "type": "quantitative", "scale": {"domain": [-0.85, 210.15], "nice": false, "zero": false}, "axis": null},
            "y": {"field": "vm", "type": "quantitative", "scale": {"domain": [-2200, 46330], "nice": false, "zero": false}}
          }
        },
        {
          "data": {"name": "ohlc"},
          "transform": [{"window": [{"op": "mean", "field": "v", "as": "vm"}], "frame": [-59, 0], "sort": [{"field": "i", "order": "ascending"}]}],
          "mark": {"type": "line", "color": "#2a9a4a", "strokeWidth": 1},
          "encoding": {
            "x": {"field": "i", "type": "quantitative", "scale": {"domain": [-0.85, 210.15], "nice": false, "zero": false}, "axis": null},
            "y": {"field": "vm", "type": "quantitative", "scale": {"domain": [-2200, 46330], "nice": false, "zero": false}}
          }
        },
        {
          "data": {"values": [{}]},
          "encoding": {"y": {"datum": 36771, "type": "quantitative", "scale": {"domain": [-2200, 46330], "nice": false, "zero": false}}},
          "layer": [
            {"mark": {"type": "text", "text": "■", "align": "left", "baseline": "middle", "font": "DejaVu Sans", "fontSize": 7, "color": "#9a9a9a"}, "encoding": {"x": {"datum": 0.6, "type": "quantitative", "scale": {"domain": [-0.85, 210.15], "nice": false, "zero": false}, "axis": null}}},
            {"mark": {"type": "text", "text": "거래량", "align": "left", "baseline": "middle", "font": "Noto Sans CJK KR", "fontSize": 9.5, "color": "#3a7f8a"}, "encoding": {"x": {"datum": 3.9, "type": "quantitative", "scale": {"domain": [-0.85, 210.15], "nice": false, "zero": false}, "axis": null}}},
            {"mark": {"type": "text", "text": "단순", "align": "left", "baseline": "middle", "font": "Noto Sans CJK KR", "fontSize": 9.5, "color": "#a040a0"}, "encoding": {"x": {"datum": 17.2, "type": "quantitative", "scale": {"domain": [-0.85, 210.15], "nice": false, "zero": false}, "axis": null}}},
            {"mark": {"type": "text", "text": "5", "align": "left", "baseline": "middle", "font": "Liberation Sans", "fontSize": 10, "color": "#a040a0"}, "encoding": {"x": {"datum": 25.0, "type": "quantitative", "scale": {"domain": [-0.85, 210.15], "nice": false, "zero": false}, "axis": null}}},
            {"mark": {"type": "text", "text": "20", "align": "left", "baseline": "middle", "font": "Liberation Sans", "fontSize": 10, "color": "#d8c020"}, "encoding": {"x": {"datum": 28.0, "type": "quantitative", "scale": {"domain": [-0.85, 210.15], "nice": false, "zero": false}, "axis": null}}},
            {"mark": {"type": "text", "text": "60", "align": "left", "baseline": "middle", "font": "Liberation Sans", "fontSize": 10, "color": "#2a8a4a"}, "encoding": {"x": {"datum": 34.8, "type": "quantitative", "scale": {"domain": [-0.85, 210.15], "nice": false, "zero": false}, "axis": null}}},
            {"mark": {"type": "text", "text": "120", "align": "left", "baseline": "middle", "font": "Liberation Sans", "fontSize": 10, "color": "#505050"}, "encoding": {"x": {"datum": 42.5, "type": "quantitative", "scale": {"domain": [-0.85, 210.15], "nice": false, "zero": false}, "axis": null}}},
            {"mark": {"type": "text", "text": "⊠", "align": "left", "baseline": "middle", "font": "DejaVu Sans", "fontSize": 9, "color": "#505050"}, "encoding": {"x": {"datum": 226.8, "type": "quantitative", "scale": {"domain": [-0.85, 210.15], "nice": false, "zero": false}, "axis": null}}}
          ]
        },
        {
          "data": {"values": [{}]},
          "mark": {"type": "text", "text": "6,700주(64.81%)", "align": "left", "baseline": "middle", "font": "Noto Sans CJK KR", "fontSize": 9.5, "color": "#202020"},
          "encoding": {
            "x": {"datum": 1.0, "type": "quantitative", "scale": {"domain": [-0.85, 210.15], "nice": false, "zero": false}, "axis": null},
            "y": {"datum": 15447, "type": "quantitative", "scale": {"domain": [-2200, 46330], "nice": false, "zero": false}}
          }
        }
      ]
    },
    {
      "width": 574,
      "height": 8,
      "data": {"values": [{}]},
      "encoding": {"y": {"datum": 0.5, "type": "quantitative", "scale": {"domain": [0, 1], "nice": false, "zero": false}, "axis": null}},
      "layer": [
        {"mark": {"type": "text", "text": "■", "align": "left", "baseline": "middle", "font": "DejaVu Sans", "fontSize": 6, "color": "#9a9a9a"}, "encoding": {"x": {"datum": 0.6, "type": "quantitative", "scale": {"domain": [-0.85, 210.15], "nice": false, "zero": false}, "axis": null}}},
        {"mark": {"type": "text", "text": "⊠", "align": "left", "baseline": "middle", "font": "DejaVu Sans", "fontSize": 8, "color": "#505050"}, "encoding": {"x": {"datum": 226.8, "type": "quantitative", "scale": {"domain": [-0.85, 210.15], "nice": false, "zero": false}, "axis": null}}}
      ]
    },
    {
      "width": 574,
      "height": 9,
      "data": {"values": [{}]},
      "mark": {"type": "text", "text": "■", "align": "left", "baseline": "middle", "font": "DejaVu Sans", "fontSize": 6, "color": "#9a9a9a"},
      "encoding": {
        "x": {"datum": 0.6, "type": "quantitative", "scale": {"domain": [-0.85, 210.15], "nice": false, "zero": false},
          "axis": {"orient": "bottom", "title": null, "grid": false, "values": [-0.85, 25.5, 44.5, 64.5, 86.5, 107.5, 126.5, 148.5, 169.5, 187.5, 210.15],
            "labelExpr": "datum.value < 0 ? '2012/12' : datum.value < 30 ? '02' : datum.value < 50 ? '03' : datum.value < 70 ? '04' : datum.value < 90 ? '05' : datum.value < 110 ? '06' : datum.value < 130 ? '07' : datum.value < 150 ? '08' : datum.value < 170 ? '09' : datum.value < 200 ? '10' : '\u00a0\u00a010/02'",
            "tickSize": 18, "labelPadding": -14, "labelAlign": "left", "labelBaseline": "top", "labelOffset": 2,
            "labelFont": "Liberation Sans", "labelFontSize": 12, "labelColor": "#101010", "domainColor": "#606060", "tickColor": "#606060", "labelFlush": false, "labelOverlap": false, "labelBound": false}},
        "y": {"datum": 0.5, "type": "quantitative", "scale": {"domain": [0, 1], "nice": false, "zero": false}, "axis": null}
      }
    }
  ]
}
